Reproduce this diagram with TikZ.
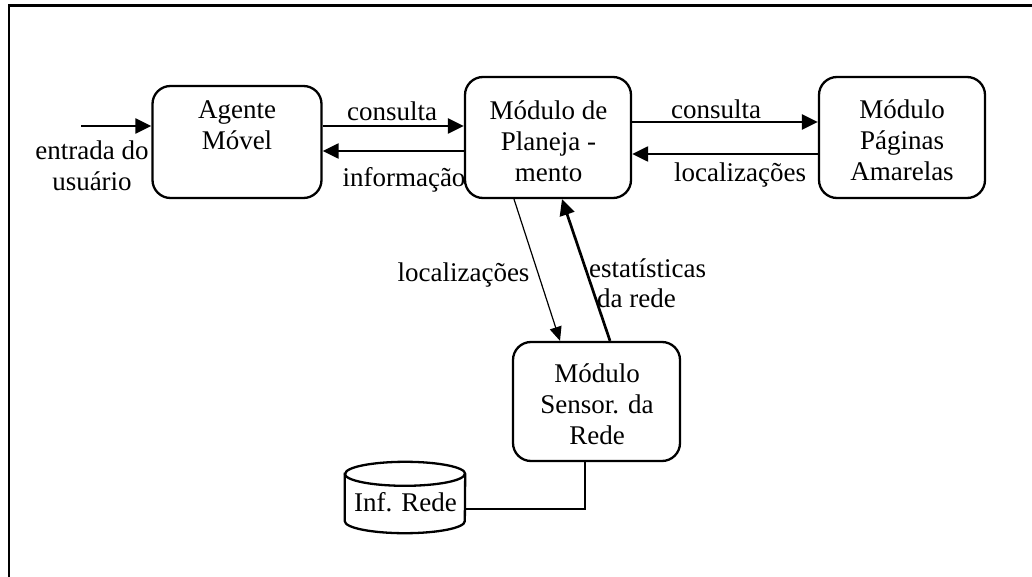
\documentclass[tikz,border=0pt]{standalone}
\usepackage{fontspec}
\setmainfont{Liberation Serif}
\usetikzlibrary{arrows.meta}
\newcommand\mylines[1]{\begin{tabular}[t]{@{}c@{}}#1\end{tabular}}
\begin{document}
\begin{tikzpicture}[x=1pt,y=-1pt,
  box/.style={draw, line width=2.3pt, rounded corners=18pt, inner sep=0pt},
  txt/.style={font=\fontsize{27}{31}\selectfont, inner sep=0pt, anchor=base},
  arr/.style={line width=2.3pt, -{Triangle[length=16pt,width=15pt]}},
  thinarr/.style={line width=1.2pt, -{Triangle[length=14pt,width=12pt]}},
  plain/.style={line width=2.3pt},
]
\useasboundingbox (0,0) rectangle (1032,577);
% frame
\draw[plain] (9,577) -- (9,5.5) -- (1032,5.5);

% boxes
\node[box, minimum width=169pt, minimum height=112pt] (agente) at (237,142) {};
\node[box, minimum width=166pt, minimum height=121pt] (plan) at (548,137.5) {};
\node[box, minimum width=166pt, minimum height=121pt] (pag) at (902,137.5) {};
\node[box, minimum width=167pt, minimum height=119pt] (sensor) at (596.5,401.5) {};
\node[minimum width=120pt, minimum height=71pt, inner sep=0pt] (cyl) at (405,497.5) {};

% cylinder
\draw[plain] ([yshift=-12pt]cyl.north west) -- ([yshift=12pt]cyl.south west)
  arc[start angle=180, end angle=360, x radius=60pt, y radius=12pt]
  -- ([yshift=-12pt]cyl.north east)
  arc[start angle=0, end angle=180, x radius=60pt, y radius=12pt] -- cycle;
\draw[plain] ([yshift=-12pt]cyl.north west)
  arc[start angle=180, end angle=360, x radius=60pt, y radius=12pt];

% box texts
\node[txt] (agenteT) at (237,119) {\mylines{Agente\\Móvel}};
\node[txt] (planT) at (548.5,120) {\mylines{Módulo de\\Planeja -\\mento}};
\node[txt] (pagT) at (902,119) {\mylines{Módulo\\Páginas\\Amarelas}};
\node[txt] (sensorT) at (597,382) {\mylines{Módulo\\Sensor. da\\Rede}};
\node[txt] (cylT) at (405.5,511.7) {Inf. Rede};

% labels
\node[txt] (lin) at (92,160) {\mylines{entrada do\\usuário}};
\node[txt] (lc1) at (392,120.7) {consulta};
\node[txt] (li) at (404,187) {informação};
\node[txt] (lc2) at (716,119) {consulta};
\node[txt] (ll1) at (740,182) {localizações};
\node[txt] (ll2) at (463.5,281.7) {localizações};
\node[txt, anchor=base west] (le1) at (589,277) {estatísticas};
\node[txt, anchor=base west] (le2) at (597,307) {da rede};

% connectors
\coordinate (inS) at (81,126);
\draw[arr] (inS) -- (inS -| agente.west);
\draw[arr] (agente.east |- 0,126) -- (plan.west |- 0,126);
\draw[arr] (plan.west |- 0,151) -- (agente.east |- 0,151);
\draw[arr] (plan.east |- 0,122) -- (pag.west |- 0,122);
\draw[arr] (pag.west |- 0,154) -- (plan.east |- 0,154);
\draw[thinarr] (plan.south -| 514,0) -- (sensor.north -| 560,0);
\draw[arr, line width=2.7pt] (sensor.north -| 610,0) -- (plan.south -| 562,0);
\draw[plain] (sensor.south -| 585,0) |- ([yshift=-11.5pt]cyl.east);
\end{tikzpicture}
\end{document}
